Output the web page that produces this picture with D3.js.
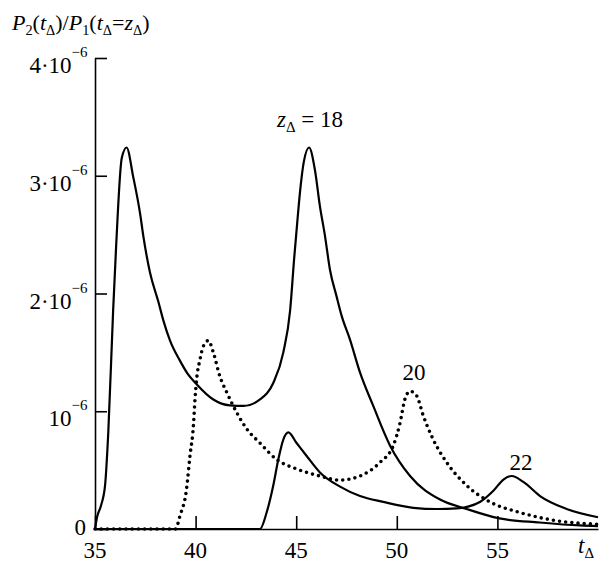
<!DOCTYPE html>
<html>
<head>
<meta charset="utf-8">
<script src="https://cdn.jsdelivr.net/npm/d3@7"></script>
<style>
  body { margin: 0; background: #fff; }
  .axis path, .axis line { stroke: #000; stroke-width: 1.6px; }
  .curve { fill: none; stroke: #000; stroke-width: 2.2px; stroke-linejoin: round; }
  .dotted { stroke-width: 3.6px; stroke-dasharray: 0 6.2; stroke-linecap: round; }
</style>
</head>
<body>
<div id="chart"></div>
<script>
// chart data, values (y in units of 1e-6)
var xTicks = [35, 40, 45, 50, 55];
var yTicks = [0, 1, 2, 3, 4];
var yTickLabels = ["0", "10", "2·10", "3·10", "4·10"];

var z18 = [[35.0,0],[35.1,0.1],[35.3,0.2],[35.5,0.37],[35.66,0.82],[35.9,1.85],[36.05,2.4],
  [36.33,3.15],[36.57,3.24],[36.9,2.99],[37.24,2.68],[37.4,2.49],[37.73,2.18],[38.15,1.93],
  [38.4,1.77],[38.73,1.6],[39.22,1.43],[39.6,1.32],[40.05,1.23],[40.88,1.1],[41.7,1.05],
  [42.37,1.045],[43.2,1.1],[43.86,1.24],[44.36,1.5],[44.7,1.86],[44.9,2.3],[45.05,2.6],
  [45.2,2.88],[45.38,3.12],[45.64,3.24],[45.93,3.05],[46.18,2.74],[46.43,2.49],[46.68,2.2],
  [47.0,1.98],[47.26,1.81],[47.67,1.61],[48.17,1.33],[48.83,1.045],[49.66,0.71],[50.66,0.45],
  [52.15,0.25],[53.47,0.17],[55.1,0.09],[57.1,0.055],[59.1,0.03],[60,0.025]];

var z20 = [[35,0],[39.0,0],[39.22,0.11],[39.55,0.34],[39.72,0.62],[39.89,0.875],[39.97,1.1],
  [40.05,1.27],[40.22,1.44],[40.38,1.55],[40.63,1.6],[40.88,1.5],[41.2,1.3],[41.55,1.16],
  [42.04,0.99],[42.54,0.85],[43.2,0.73],[44.03,0.59],[45.02,0.51],[46.18,0.45],[47.18,0.415],
  [48.17,0.45],[49.16,0.565],[49.83,0.71],[50.16,0.9],[50.4,1.1],[50.66,1.17],[50.99,1.13],
  [51.32,0.96],[51.81,0.76],[52.48,0.565],[53.47,0.37],[54.63,0.23],[56.12,0.14],[57.95,0.07],
  [60,0.04]];

var z22 = [[35,0],[43.2,0],[43.53,0.14],[43.86,0.37],[44.11,0.59],[44.36,0.76],[44.61,0.82],
  [45.02,0.73],[45.52,0.62],[46.18,0.48],[47.18,0.36],[48.17,0.28],[49.33,0.23],[50.82,0.18],
  [52.0,0.17],[52.97,0.175],[54.13,0.23],[54.8,0.325],[55.3,0.42],[55.71,0.45],[56.29,0.4],
  [57.12,0.28],[58.44,0.17],[60,0.1]];

var width = 603,
    height = 562;

var svg = d3.select("#chart")
  .append("svg")
  .attr("width", width)
  .attr("height", height)
  .attr("font-family", "'Liberation Serif', 'Times New Roman', Times, 'DejaVu Serif', serif");

var x = d3.scaleLinear().domain([35, 60]).range([95, 598]);
var y = d3.scaleLinear().domain([0, 4]).range([529, 58]);

// axes, ticks point inwards
var xAxis = d3.axisBottom(x).tickValues(xTicks).tickSizeInner(-13).tickSizeOuter(0).tickFormat("");
var yAxis = d3.axisLeft(y).tickValues(yTicks).tickSizeInner(-12).tickSizeOuter(0).tickFormat("");

svg.append("g").attr("class", "axis")
  .attr("transform", "translate(0," + y(0) + ")")
  .call(xAxis);
svg.append("g").attr("class", "axis")
  .attr("transform", "translate(" + x(35) + ",0)")
  .call(yAxis);

// text made of pieces: [string, "it" | "sub" | "sup" | ""]
// anchoring is done by measuring, since tspans with own y start new chunks
function richText(px, py, size, parts, anchor) {
  var t = svg.append("text")
    .attr("x", px)
    .attr("y", py)
    .attr("font-size", size);
  parts.forEach(function(p) {
    var ts = t.append("tspan").text(p[0]);
    var kind = p[1] || "";
    if (kind.indexOf("it") >= 0) ts.attr("font-style", "italic");
    if (kind.indexOf("sub") >= 0) ts.attr("y", py + 5).attr("font-size", size * 0.65);
    else if (kind.indexOf("sup") >= 0) ts.attr("y", py - 16).attr("font-size", size * 0.65);
    else ts.attr("y", py);
  });
  if (anchor === "end" || anchor === "middle") {
    var w = t.node().getBBox().width;
    t.attr("x", px - (anchor === "end" ? w : w / 2));
  }
  return t;
}

// x tick labels
svg.append("g").selectAll("text")
  .data(xTicks).enter()
  .append("text")
  .attr("x", function(d) { return x(d); })
  .attr("y", y(0) + 29)
  .attr("text-anchor", "middle")
  .attr("font-size", 23)
  .text(function(d) { return d; });

// y tick labels with 10^-6 superscripts
yTicks.forEach(function(d, i) {
  if (d === 0) {
    richText(86, y(d) + 6, 23, [["0", ""]], "end");
  } else {
    richText(88, y(d) + 15, 23, [[yTickLabels[i], ""], ["−6", "sup"]], "end");
  }
});

// curves
var line = d3.line()
  .x(function(d) { return x(d[0]); })
  .y(function(d) { return y(d[1]); })
  .curve(d3.curveMonotoneX);

svg.append("path").datum(z18).attr("class", "curve").attr("d", line);
svg.append("path").datum(z22).attr("class", "curve").attr("d", line);
svg.append("path").datum(z20).attr("class", "curve dotted").attr("d", line);

// axis titles
richText(12, 30, 22, [
  ["P", "it"], ["2", "sub"], ["(", ""], ["t", "it"], ["Δ", "sub"], [")/", ""],
  ["P", "it"], ["1", "sub"], ["(", ""], ["t", "it"], ["Δ", "sub"], ["=", ""],
  ["z", "it"], ["Δ", "sub"], [")", ""]
]);
richText(578, 553, 23, [["t", "it"], ["Δ", "sub"]]);

// curve labels
richText(277, 127, 23, [["z", "it"], ["Δ", "sub"], [" = 18", ""]]);
richText(414, 380, 23, [["20", ""]], "middle");
richText(521, 470, 23, [["22", ""]], "middle");
</script>
</body>
</html>
